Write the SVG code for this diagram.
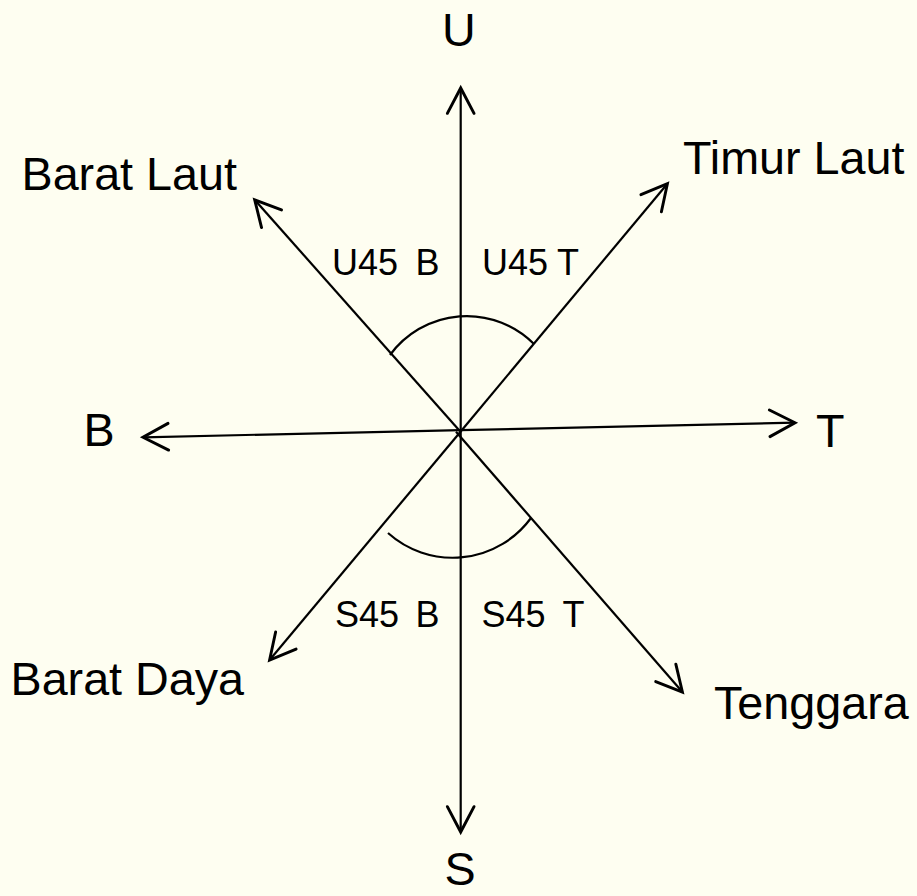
<svg xmlns="http://www.w3.org/2000/svg" width="917" height="896" viewBox="0 0 917 896">
<style>
.big{font-family:"Liberation Sans",Arial,sans-serif;font-size:46.7px;fill:#000}
.small{font-family:"Liberation Sans",Arial,sans-serif;font-size:36px;fill:#000}
.ln{stroke:#000;stroke-width:2.2;fill:none}
</style>
<defs>
<marker id="ah" markerUnits="userSpaceOnUse" markerWidth="40" markerHeight="40" viewBox="-25 -15 30 30" refX="0" refY="0" orient="auto" overflow="visible">
<path d="M-19,-10 L0,0 L-19,10" fill="none" stroke="#000" stroke-width="2.2" stroke-linecap="round"/>
</marker>
</defs>
<rect x="0" y="0" width="917" height="896" fill="#FEFEF1"/>
<g id="connectors">
<line class="ln" x1="460.7" y1="431.7" x2="460.7" y2="88" marker-end="url(#ah)"/>
<line class="ln" x1="460.7" y1="431.7" x2="460.7" y2="832" marker-end="url(#ah)"/>
<line class="ln" x1="460.5" y1="430.2" x2="143" y2="437.3" marker-end="url(#ah)"/>
<line class="ln" x1="460.5" y1="430.2" x2="795" y2="422.7" marker-end="url(#ah)"/>
<line class="ln" x1="460.5" y1="431.7" x2="254.7" y2="199.8" marker-end="url(#ah)"/>
<line class="ln" x1="460.5" y1="431.7" x2="667.4" y2="183.7" marker-end="url(#ah)"/>
<line class="ln" x1="460.5" y1="431.7" x2="269.6" y2="660" marker-end="url(#ah)"/>
<line class="ln" x1="456" y1="431.7" x2="682.4" y2="692" marker-end="url(#ah)"/>
<path class="ln" d="M390,355 A95,95 0 0 1 534,344"/>
<path class="ln" d="M388,533 A97,97 0 0 0 531,518"/>
</g>
<g id="node-U"><text class="big" x="442" y="46">U</text></g>
<g id="node-S"><text class="big" x="444.5" y="885">S</text></g>
<g id="node-B"><text class="big" x="83.5" y="446">B</text></g>
<g id="node-T"><text class="big" x="816" y="447">T</text></g>
<g id="node-barat-laut"><text class="big" x="21.5" y="190">Barat Laut</text></g>
<g id="node-timur-laut"><text class="big" x="683" y="174">Timur Laut</text></g>
<g id="node-barat-daya"><text class="big" x="10.5" y="695">Barat Daya</text></g>
<g id="node-tenggara"><text class="big" x="714" y="719">Tenggara</text></g>
<g id="label-u45b"><text class="small" y="275"><tspan x="332">U45</tspan><tspan x="415.5">B</tspan></text></g>
<g id="label-u45t"><text class="small" y="275"><tspan x="482">U45</tspan><tspan x="557">T</tspan></text></g>
<g id="label-s45b"><text class="small" y="627"><tspan x="335">S45</tspan><tspan x="415.5">B</tspan></text></g>
<g id="label-s45t"><text class="small" y="627"><tspan x="481.5">S45</tspan><tspan x="562.5">T</tspan></text></g>
</svg>
